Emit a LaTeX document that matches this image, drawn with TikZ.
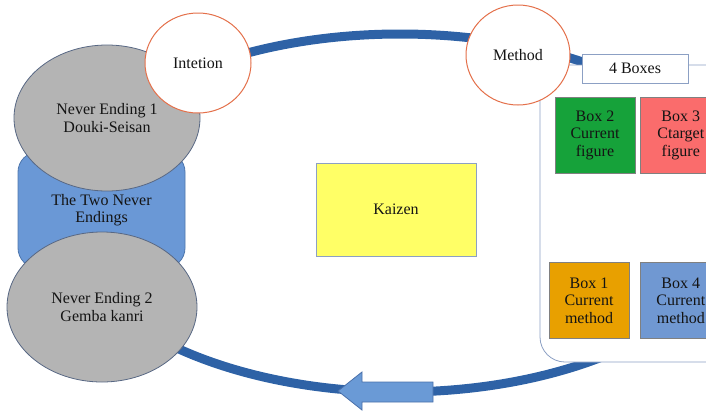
\documentclass[tikz,border=0pt]{standalone}
\usepackage{fontspec}
\setmainfont{Liberation Serif}
\usepackage{tikz}
\usetikzlibrary{shapes.geometric, positioning}
\usepackage{xcolor}
\definecolor{ringblue}{RGB}{46,98,166}
\definecolor{arrowfill}{RGB}{106,154,214}
\definecolor{arrowline}{RGB}{74,112,170}
\definecolor{bubbleline}{RGB}{228,112,74}
\definecolor{endgrey}{RGB}{180,180,180}
\definecolor{endline}{RGB}{88,104,132}
\definecolor{pairblue}{RGB}{106,152,214}
\definecolor{pairline}{RGB}{78,118,172}
\definecolor{kaizenyellow}{RGB}{255,255,102}
\definecolor{frameline}{RGB}{140,160,196}
\definecolor{boxline}{RGB}{128,128,128}
\definecolor{boxgreen}{RGB}{22,162,58}
\definecolor{boxred}{RGB}{250,108,108}
\definecolor{boxorange}{RGB}{232,160,0}
\definecolor{boxblue}{RGB}{112,152,210}

\begin{document}
\begin{tikzpicture}[
    x=1pt, y=-1pt,
    every node/.style={font=\fontsize{16}{17.5}\selectfont, align=center, text=black!92},
    ring/.style={line width=9pt, ringblue},
    bigarrow/.style={fill=arrowfill, draw=arrowline, line width=0.8pt},
    bubble/.style={ellipse, draw=bubbleline, fill=white, line width=1pt, minimum width=106pt, minimum height=100pt},
    ending/.style={ellipse, draw=endline, fill=endgrey, line width=0.8pt},
    pair/.style={rectangle, rounded corners=20pt, draw=pairline, fill=pairblue, line width=0.8pt, minimum width=167pt, minimum height=116pt},
    kaizen/.style={rectangle, draw=frameline, fill=kaizenyellow, line width=0.8pt, minimum width=160pt, minimum height=93pt},
    frame/.style={rectangle, rounded corners=25pt, draw=frameline, fill=white, line width=0.8pt, minimum width=200pt, minimum height=297pt},
    tag/.style={rectangle, draw=frameline, fill=white, line width=0.8pt, minimum width=106pt, minimum height=29pt, inner sep=1pt},
    boxstep/.style={rectangle, draw=boxline, line width=0.8pt, minimum width=80pt, minimum height=76pt, inner sep=1pt}
]
\useasboundingbox (0,0) rectangle (706,410);
\begin{scope}
\clip (0,0) rectangle (706,410);

% The cycle and its direction
\draw[ring] (400,213) ellipse [x radius=340, y radius=179];
\draw[bigarrow] (433,382) -- (362,382) -- (362,372) -- (338,391)
   -- (362,410) -- (362,402) -- (433,402) -- cycle;

% Left: the two never endings
\node[pair] (pair) at (101.5,210) {The Two Never\\Endings};
\node[ending, minimum width=186pt, minimum height=146pt]
   (end1) at (107,118) {Never Ending 1\\Douki-Seisan};
\node[ending, minimum width=190pt, minimum height=150pt]
   (end2) at (102,307) {Never Ending 2\\Gemba kanri};
\node[bubble] (intent) at (198,63) {Intetion};

% Centre
\node[kaizen] (kaizen) at (396,209.5) {Kaizen};

% Right: the 4 boxes
\node[frame] (frame) at (640,213.5) {};
\node[tag] (tag) at (635,68.5) {4 Boxes};
\node[bubble, minimum width=104pt] (method) at (518,55) {Method};

\node[boxstep, fill=boxgreen] (box2) at (595,135) {Box 2\\Current\\figure};
\node[boxstep, fill=boxred, right=5pt of box2] (box3) {Box 3\\Ctarget\\figure};
\node[boxstep, fill=boxorange] (box1) at (589,300.5) {Box 1\\Current\\method};
\node[boxstep, fill=boxblue, right=11pt of box1] (box4) {Box 4\\Current\\method};
\end{scope}
\end{tikzpicture}
\end{document}
